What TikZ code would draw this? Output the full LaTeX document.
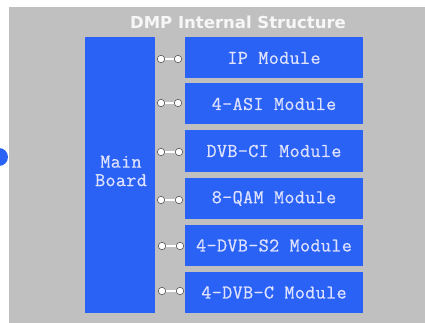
\documentclass[tikz,border=0pt]{standalone}
\usepackage{fontspec}
\newfontfamily\titlefont{DejaVu Sans}
\newfontfamily\modfont[LetterSpace=2,FakeBold=0.7]{Latin Modern Mono}
\definecolor{boardblue}{RGB}{42,98,246}
\definecolor{panelgray}{RGB}{192,192,192}
\definecolor{modtext}{RGB}{222,226,255}
\definecolor{plugedge}{RGB}{90,90,90}
\begin{document}
\begin{tikzpicture}[x=1pt,y=-1pt,
	module/.style={fill=boardblue, minimum width=178pt, minimum height=41pt, inner sep=0pt,
		text=modtext, font=\modfont\fontsize{19.5}{20}\selectfont},
	plug/.style={circle, draw=plugedge, fill=white, line width=0.6pt, minimum size=7.5pt, inner sep=0pt},
	wire/.style={draw=plugedge, double=white, double distance=1.6pt, line width=0.4pt}]
		\useasboundingbox (0,0) rectangle (425,323);
		\fill[white] (0,0) rectangle (425,323);
		% panel and outside port
		\fill[panelgray] (9,7) rectangle (425,323);
		\node[circle, fill=boardblue, minimum size=18pt, inner sep=0pt] (port) at (-1,157) {};
		\node[text=white!94!gray, font=\titlefont\bfseries\fontsize{16.5}{18}\selectfont] (title) at (238,22.5) {DMP Internal Structure};
		% main board
		\node[fill=boardblue, minimum width=70pt, minimum height=276pt, inner sep=0pt] (board) at (120,175) {};
		\node[text=modtext, align=center, font=\modfont\fontsize{19.5}{18.5}\selectfont] (boardtxt) at (121,171) {Main\\Board};
		% modules
		\node[module] (ip) at (274,58) {IP Module};
		\node[module] (asi) at (274,104) {4-ASI Module};
		\node[module] (ci) at (274,151) {DVB-CI Module};
		\node[module] (qam) at (274,198.5) {8-QAM Module};
		\node[module] (dvbs) at (274,245.5) {4-DVB-S2 Module};
		\node[module] (dvbc) at (274,292.5) {4-DVB-C Module};
		% plugs between board and modules
		\node[plug] (ipa) at (161,59) {};  \node[plug] (ipb) at (178,59) {};
		\node[plug] (asia) at (161,103) {}; \node[plug] (asib) at (178,103) {};
		\node[plug] (cia) at (161,152) {};  \node[plug] (cib) at (179,152) {};
		\node[plug] (qama) at (161,200) {}; \node[plug] (qamb) at (179,200) {};
		\node[plug] (dvbsa) at (162,246) {}; \node[plug] (dvbsb) at (180,246) {};
		\node[plug] (dvbca) at (162,291) {}; \node[plug] (dvbcb) at (180,291) {};
		\draw[wire] (ipa)--(ipb);
		\draw[wire] (asia)--(asib);
		\draw[wire] (cia)--(cib);
		\draw[wire] (qama)--(qamb);
		\draw[wire] (dvbsa)--(dvbsb);
		\draw[wire] (dvbca)--(dvbcb);
	\end{tikzpicture}
\end{document}
